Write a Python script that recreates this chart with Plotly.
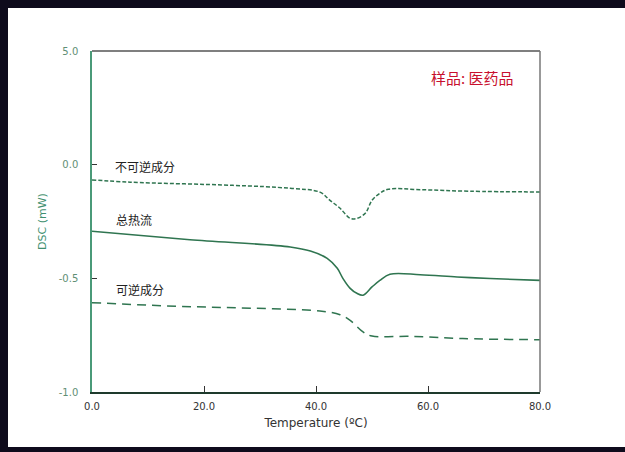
import plotly.graph_objects as go

# Data
temp_nonrev = [0, 6.8, 25.2, 35.4, 40.7, 42.5, 44.3, 46.1, 47.3, 48.8, 50.0, 51.4, 52.9, 58.6, 67.5, 80]
dsc_nonrev = [-0.067, -0.077, -0.091, -0.104, -0.121, -0.157, -0.192, -0.236, -0.236, -0.214, -0.157, -0.126, -0.108, -0.110, -0.117, -0.120]

temp_total = [0, 17.5, 35.4, 39.0, 42.0, 43.8, 44.8, 46.1, 47.3, 48.4, 50.0, 51.4, 53.2, 58.6, 65.2, 71.1, 80]
dsc_total = [-0.293, -0.330, -0.362, -0.380, -0.412, -0.456, -0.500, -0.544, -0.566, -0.574, -0.538, -0.509, -0.482, -0.484, -0.494, -0.501, -0.509]

temp_rev = [0, 15.2, 26.4, 40.7, 44.3, 46.1, 48.4, 50.0, 56.8, 66.2, 80]
dsc_rev = [-0.607, -0.623, -0.630, -0.644, -0.660, -0.685, -0.736, -0.754, -0.755, -0.765, -0.770]

y_tickvals = [-1.0, -0.5, 0.0, 0.5]
y_ticktext = ["-1.0", "-0.5", "0.0", "5.0"]
x_tickvals = [0, 20, 40, 60, 80]
x_ticktext = ["0.0", "20.0", "40.0", "60.0", "80.0"]

line_color = "#2f7550"
frame_color = "#0e0b1c"

fig = go.Figure()
fig.add_trace(go.Scatter(x=temp_nonrev, y=dsc_nonrev, mode="lines",
                         line=dict(color=line_color, width=1.5, dash="4px,2px"),
                         line_shape="spline", showlegend=False))
fig.add_trace(go.Scatter(x=temp_total, y=dsc_total, mode="lines",
                         line=dict(color=line_color, width=1.6),
                         line_shape="spline", showlegend=False))
fig.add_trace(go.Scatter(x=temp_rev, y=dsc_rev, mode="lines",
                         line=dict(color=line_color, width=1.5, dash="9px,6px"),
                         line_shape="spline", showlegend=False))

L, R, T, B = 92, 85, 51, 60
W, H = 625, 452
pw, ph = W - L - R, H - T - B

def px2paper_x(px):
    return (px - L) / pw

def px2paper_y(py):
    return (H - B - py) / ph

def rect(x0, x1, y0, y1, color, layer="below"):
    return dict(type="rect", xref="paper", yref="paper", layer=layer,
                x0=px2paper_x(x0), x1=px2paper_x(x1), y0=px2paper_y(y1), y1=px2paper_y(y0),
                fillcolor=color, line=dict(width=0))

shapes = [
    rect(-20, 8, -20, 470, frame_color),    # left band
    rect(-20, 660, -20, 8, frame_color),    # top band
    rect(-20, 660, 447, 470, frame_color),  # bottom band
    rect(560, 660, 8, 447, "white"),        # right side of the page stays white
    # top and right border of plot
    dict(type="line", xref="paper", yref="paper", x0=0, x1=1, y0=1, y1=1,
         line=dict(color="#555555", width=1.5)),
    dict(type="line", xref="paper", yref="paper", x0=1, x1=1, y0=0, y1=1,
         line=dict(color="#777777", width=1.5)),
]

annotations = [
    dict(text="样品: 医药品", x=px2paper_x(472), y=px2paper_y(77), xref="paper", yref="paper",
         xanchor="center", yanchor="middle",
         showarrow=False, font=dict(family="Noto Sans CJK SC", size=15, color="#c8102e")),
    dict(text="不可逆成分", x=3.7, y=-0.007, xref="x", yref="y", xanchor="left", yanchor="middle",
         showarrow=False, font=dict(family="Noto Sans CJK SC", size=12, color="#222222")),
    dict(text="总热流", x=4.0, y=-0.24, xref="x", yref="y", xanchor="left", yanchor="middle",
         showarrow=False, font=dict(family="Noto Sans CJK SC", size=12, color="#222222")),
    dict(text="可逆成分", x=4.0, y=-0.547, xref="x", yref="y", xanchor="left", yanchor="middle",
         showarrow=False, font=dict(family="Noto Sans CJK SC", size=12, color="#222222")),
]

fig.update_layout(
    width=W, height=H,
    margin=dict(l=L, r=R, t=T, b=B),
    paper_bgcolor="white",
    plot_bgcolor="white",
    shapes=shapes,
    annotations=annotations,
    xaxis=dict(range=[0, 80], tickvals=x_tickvals, ticktext=x_ticktext,
               showgrid=False, zeroline=False, showline=True, linecolor="#1e3a2c", linewidth=1.5,
               ticks="inside", ticklen=6, tickcolor="#333333", ticklabelstandoff=4,
               tickfont=dict(family="DejaVu Sans", size=10, color="#333333"),
               title=dict(text="Temperature (ºC)", standoff=8,
                          font=dict(family="DejaVu Sans", size=12, color="#333333"))),
    yaxis=dict(range=[-1.0, 0.5], tickvals=y_tickvals, ticktext=y_ticktext,
               showgrid=False, zeroline=False, showline=True, linecolor="#4a9a78", linewidth=1.5,
               ticks="inside", ticklen=5, tickcolor="#333333", ticklabelstandoff=10,
               tickfont=dict(family="DejaVu Sans", size=10, color="#5f8f75"),
               title=dict(text="DSC (mW)", standoff=10,
                          font=dict(family="DejaVu Sans", size=11, color="#3f9070"))),
)

fig.write_html("out.html")
